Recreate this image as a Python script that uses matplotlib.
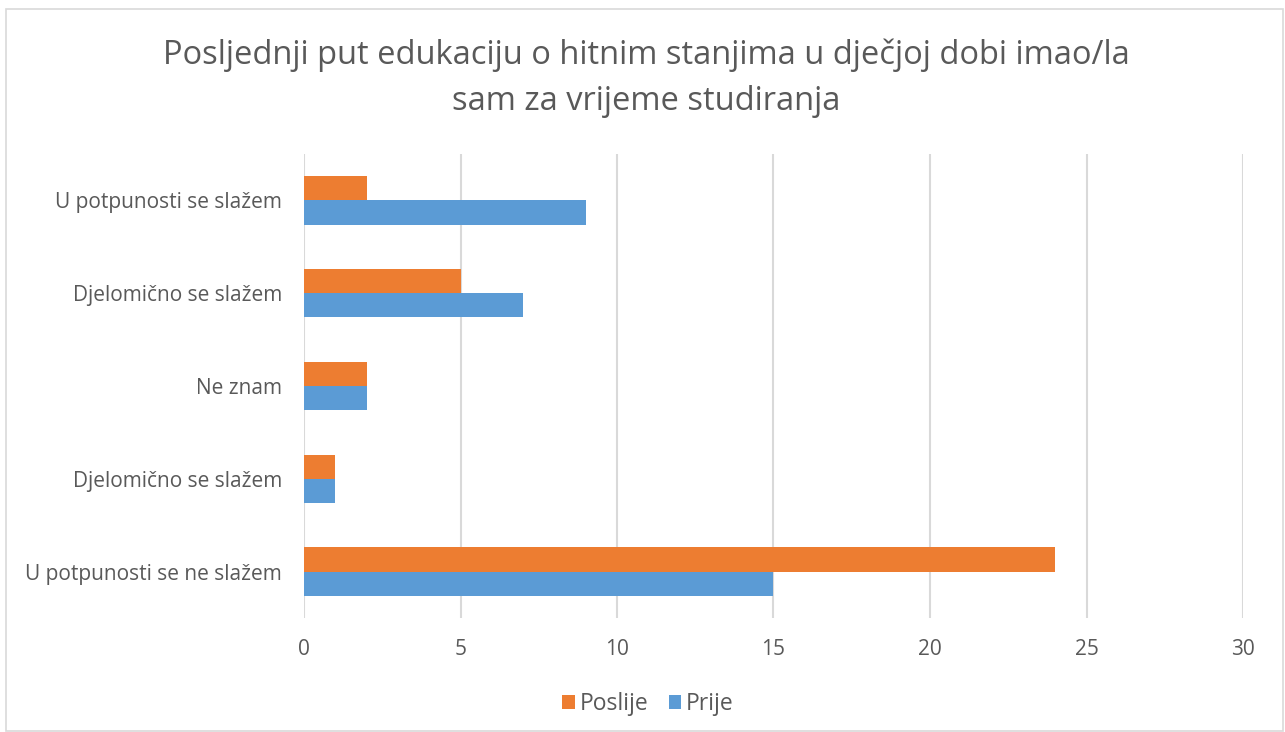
import matplotlib
matplotlib.use("Agg")
import matplotlib.pyplot as plt
import numpy as np
from matplotlib.patches import Rectangle

categories = ["U potpunosti se ne slažem", "Djelomično se slažem", "Ne znam",
              "Djelomično se slažem", "U potpunosti se slažem"]
poslije = [24, 1, 2, 5, 2]
prije = [15, 1, 2, 7, 9]
xticks = [0, 5, 10, 15, 20, 25, 30]

title = "Posljednji put edukaciju o hitnim stanjima u dječjoj dobi imao/la\nsam za vrijeme studiranja"

plt.rcParams['font.family'] = ['Open Sans', 'DejaVu Sans']

ORANGE = "#ED7D31"
BLUE = "#5B9BD5"
TEXT = "#595959"
GRID = "#D9D9D9"

fig = plt.figure(figsize=(12.85, 7.32), dpi=100)
fig.patches.append(Rectangle((6 / 1285, 1 / 732), 1277 / 1285, 722 / 732,
                             transform=fig.transFigure, fill=False,
                             edgecolor=GRID, linewidth=1.2))

ax = fig.add_axes([304 / 1285, 1 - 618 / 732, 939 / 1285, 464 / 732])
y = np.arange(len(categories))
h = 0.26
ax.barh(y + h / 2, poslije, h, color=ORANGE, label="Poslije", zorder=3)
ax.barh(y - h / 2, prije, h, color=BLUE, label="Prije", zorder=3)

ax.set_xlim(0, 30)
ax.set_ylim(-0.5, len(categories) - 0.5)
ax.set_xticks(xticks)
ax.set_yticks(y)
ax.set_yticklabels(categories)
ax.xaxis.grid(True, color=GRID, linewidth=1.5, zorder=0)
for s in ax.spines.values():
    s.set_visible(False)
ax.tick_params(axis='both', length=0, colors=TEXT, labelsize=15)
ax.tick_params(axis='x', pad=15)
ax.tick_params(axis='y', pad=16)

fig.text(0.503, 1 - 78 / 732, title, ha='center', va='center', fontsize=23.5,
         color=TEXT, linespacing=1.5)

handles, labels = ax.get_legend_handles_labels()
fig.legend(handles, labels, loc='center', bbox_to_anchor=(648 / 1285, 1 - 704 / 732),
           ncol=2, frameon=False, fontsize=16.5, labelcolor=TEXT,
           handlelength=0.55, handleheight=0.55, handletextpad=0.2,
           columnspacing=0.9)

fig.savefig("out.png", dpi=100)
